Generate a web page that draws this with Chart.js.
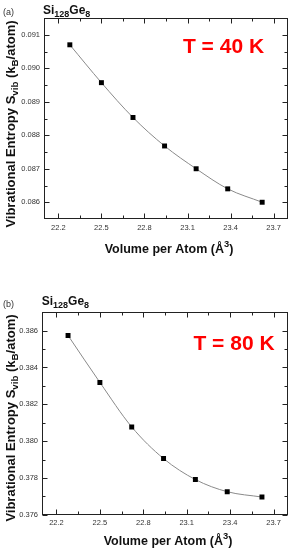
<!DOCTYPE html>
<html>
<head>
<meta charset="utf-8">
<script src="https://cdn.jsdelivr.net/npm/chart.js@4.4.0/dist/chart.umd.min.js"></script>
<style>
    body { margin: 0; background: #fff; }
    canvas { position: absolute; left: 0; }
</style>
</head>
<body>
<canvas id="chartA" width="292" height="275" style="top:0"></canvas>
<canvas id="chartB" width="292" height="275" style="top:275px"></canvas>
<script>
// data
const volumes = [22.28, 22.50, 22.72, 22.94, 23.16, 23.38, 23.62];
const entropy40K = [0.09070, 0.08957, 0.08853, 0.08768, 0.08700, 0.08640, 0.08600];
const entropy80K = [0.38574, 0.38319, 0.38077, 0.37905, 0.37791, 0.37725, 0.37696];
const xTicks = [22.2, 22.5, 22.8, 23.1, 23.4, 23.7];
const yTicks40K = [0.086, 0.087, 0.088, 0.089, 0.090, 0.091];
const yTicks80K = [0.376, 0.378, 0.380, 0.382, 0.384, 0.386];

const FONT = "'Liberation Sans', Arial, sans-serif";

window.onload = init;

function init() {
    createChart('chartA', entropy40K, yTicks40K, {
        yMin: 0.0855, yMax: 0.0915, left: 44, top: 18, bottom: 219,
        panel: '(a)', panelY: 15, siY: 13.5, siX: 43,
        temp: 'T = 40 K', tempX: 223.5, tempY: 53.3,
        yTitleX: 14.5, yTitleY: 124, xTitleX: 169, xTitleY: 253
    });
    createChart('chartB', entropy80K, yTicks80K, {
        yMin: 0.376, yMax: 0.387, left: 42, top: 37.3, bottom: 239.7,
        panel: '(b)', panelY: 32, siY: 30, siX: 41.7,
        temp: 'T = 80 K', tempX: 234, tempY: 75,
        yTitleX: 14.5, yTitleY: 143, xTitleX: 168, xTitleY: 270
    });
}

function minorOf(vals) {
    return vals.slice(1).map((v, i) => (v + vals[i]) / 2);
}

function drawRich(ctx, parts, x, y, size, align) {
    const fontFor = mode => 'bold ' + (mode ? size * 0.75 : size) + 'px ' + FONT;
    let total = 0;
    parts.forEach(([t, mode]) => {
        ctx.font = fontFor(mode);
        total += ctx.measureText(t).width;
    });
    let cx = align === 'center' ? x - total / 2 : x;
    ctx.textAlign = 'left';
    ctx.textBaseline = 'alphabetic';
    parts.forEach(([t, mode]) => {
        ctx.font = fontFor(mode);
        const dy = mode === 1 ? size * 0.28 : mode === 2 ? -size * 0.45 : 0;
        ctx.fillText(t, cx, y + dy);
        cx += ctx.measureText(t).width;
    });
}

function createChart(id, values, yTicks, p) {
    const ctx = document.getElementById(id).getContext('2d');

    const frame = {
        id: 'frame',
        afterDraw(chart) {
            const c = chart.ctx;
            const a = chart.chartArea;
            const x = chart.scales.x;
            const y = chart.scales.y;
            c.save();
            c.strokeStyle = '#222';
            c.lineWidth = 1;
            const L = Math.round(a.left) + 0.5, R = Math.round(a.right) - 0.5;
            const T = Math.round(a.top) + 0.5, B = Math.round(a.bottom) - 0.5;
            c.strokeRect(L, T, R - L, B - T);
            c.beginPath();
            const tickX = (v, len) => {
                const px = Math.round(x.getPixelForValue(v)) + 0.5;
                c.moveTo(px, B); c.lineTo(px, B - len);
                c.moveTo(px, T); c.lineTo(px, T + len);
            };
            const tickY = (v, len) => {
                const py = Math.round(y.getPixelForValue(v)) + 0.5;
                c.moveTo(L, py); c.lineTo(L + len, py);
                c.moveTo(R, py); c.lineTo(R - len, py);
            };
            xTicks.forEach(v => tickX(v, 5));
            minorOf(xTicks).forEach(v => tickX(v, 3));
            yTicks.forEach(v => tickY(v, 5));
            minorOf(yTicks).forEach(v => tickY(v, 3));
            c.stroke();

            c.fillStyle = '#333';
            c.font = '9px ' + FONT;
            c.textAlign = 'left';
            c.fillText(p.panel, 3, p.panelY);

            c.fillStyle = '#111';
            drawRich(c, [['Si', 0], ['128', 1], ['Ge', 0], ['8', 1]], p.siX, p.siY, 12, 'left');
            drawRich(c, [['Volume per Atom (Å', 0], ['3', 2], [')', 0]], p.xTitleX, p.xTitleY, 12.5, 'center');

            c.save();
            c.translate(p.yTitleX, p.yTitleY);
            c.rotate(-Math.PI / 2);
            drawRich(c, [['Vibrational Entropy S', 0], ['vib', 1], [' (k', 0], ['B', 1], ['/atom)', 0]], 0, 0, 13, 'center');
            c.restore();

            c.fillStyle = '#ff0000';
            c.font = 'bold 21px ' + FONT;
            c.textAlign = 'center';
            c.fillText(p.temp, p.tempX, p.tempY);
            c.restore();
        }
    };

    new Chart(ctx, {
        type: 'line',
        data: {
            datasets: [
                {
                    data: volumes.map((v, i) => ({ x: v, y: values[i] })),
                    borderColor: '#8a8a8a',
                    borderWidth: 1,
                    cubicInterpolationMode: 'monotone',
                    pointStyle: 'rect',
                    pointRadius: 3.5,
                    pointBackgroundColor: '#000',
                    pointBorderColor: '#000',
                    pointBorderWidth: 0
                }
            ]
        },
        options: {
            responsive: false,
            animation: false,
            layout: { padding: { top: p.top, right: 4, left: 0, bottom: 0 } },
            plugins: { legend: { display: false }, tooltip: { enabled: false } },
            scales: {
                x: {
                    type: 'linear',
                    min: 22.1,
                    max: 23.8,
                    afterBuildTicks: s => { s.ticks = xTicks.map(v => ({ value: v })); },
                    afterFit: s => { s.height = 275 - p.bottom; },
                    grid: { display: false, drawTicks: false },
                    border: { display: false },
                    ticks: {
                        padding: 4,
                        maxRotation: 0,
                        autoSkip: false,
                        color: '#333',
                        font: { family: FONT, size: 7.5 },
                        callback: v => v.toFixed(1)
                    }
                },
                y: {
                    min: p.yMin,
                    max: p.yMax,
                    afterBuildTicks: s => { s.ticks = yTicks.map(v => ({ value: v })); },
                    afterFit: s => { s.width = p.left; },
                    grid: { display: false, drawTicks: false },
                    border: { display: false },
                    ticks: {
                        padding: 4,
                        autoSkip: false,
                        color: '#333',
                        font: { family: FONT, size: 7.5 },
                        callback: v => v.toFixed(3)
                    }
                }
            }
        },
        plugins: [frame]
    });
}
</script>
</body>
</html>
